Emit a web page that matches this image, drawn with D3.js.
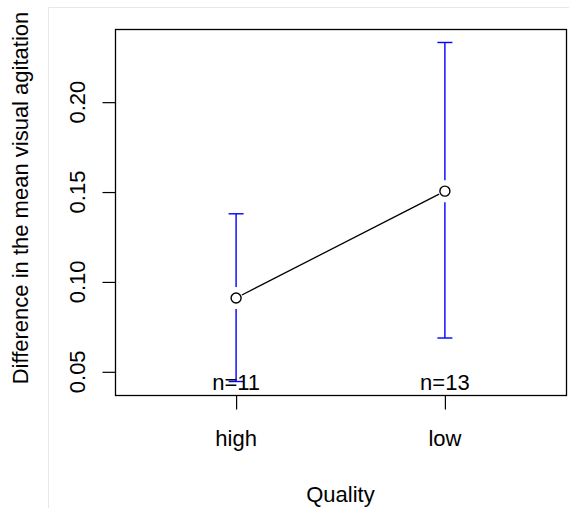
<!DOCTYPE html>
<html>
<head>
<meta charset="utf-8">
<script src="https://cdn.jsdelivr.net/npm/d3@7"></script>
<style>
  html, body { margin: 0; padding: 0; background: #fff; }
  svg { display: block; }
  text { font-family: "Liberation Sans", Arial, Helvetica, sans-serif; fill: #000; }
</style>
</head>
<body>
<svg id="chart" width="569" height="508"></svg>
<script>
// ---- data ----
const categories = ["high", "low"];
const means = [0.0911, 0.1505];
const upper = [0.1379, 0.2332];
const lower = [0.0446, 0.0688];
const nLabels = ["n=11", "n=13"];
const yTicks = [0.05, 0.10, 0.15, 0.20];
const yTickLabels = ["0.05", "0.10", "0.15", "0.20"];
const xTitle = "Quality";
const yTitle = "Difference in the mean visual agitation";

// ---- layout ----
const box = { left: 115, right: 566, top: 29, bottom: 395 };
const fontSize = 22;

const svg = d3.select("#chart");

// faint outer frame
svg.append("path")
  .attr("d", "M48.5,520 L48.5,7.5 L575,7.5")
  .attr("fill", "none")
  .attr("stroke", "#e8e8e8")
  .attr("stroke-width", 1);

const x = d3.scaleLinear().domain([0.42, 2.58]).range([box.left, box.right]);
const y = d3.scaleLinear().domain([0.0371, 0.2407]).range([box.bottom, box.top]);

const idx = categories.map((c, i) => i + 1);

// box
svg.append("rect")
  .attr("x", box.left + 0.5).attr("y", box.top + 0.5)
  .attr("width", box.right - box.left).attr("height", box.bottom - box.top)
  .attr("fill", "none").attr("stroke", "#000").attr("stroke-width", 1.3);

// y axis
const yAxis = d3.axisLeft(y).tickValues(yTicks).tickSize(13).tickFormat("");
const gy = svg.append("g").attr("transform", `translate(${box.left + 0.5},0)`).call(yAxis);
gy.select(".domain").remove();
gy.selectAll(".tick line").attr("stroke", "#000").attr("stroke-width", 1.2);
yTicks.forEach((t, i) => {
  svg.append("text")
    .attr("transform", `translate(85,${y(t)}) rotate(-90)`)
    .attr("text-anchor", "middle")
    .attr("font-size", fontSize)
    .text(yTickLabels[i]);
});

// x axis
const xAxis = d3.axisBottom(x).tickValues(idx).tickSize(14).tickFormat("");
const gx = svg.append("g").attr("transform", `translate(0,${box.bottom + 0.5})`).call(xAxis);
gx.select(".domain").remove();
gx.selectAll(".tick line").attr("stroke", "#000").attr("stroke-width", 1.2);
categories.forEach((c, i) => {
  svg.append("text")
    .attr("x", x(idx[i])).attr("y", 446)
    .attr("text-anchor", "middle")
    .attr("font-size", fontSize)
    .text(c);
});

// axis titles
svg.append("text")
  .attr("x", (box.left + box.right) / 2).attr("y", 502)
  .attr("text-anchor", "middle").attr("font-size", fontSize)
  .text(xTitle);
svg.append("text")
  .attr("transform", `translate(28,198) rotate(-90)`)
  .attr("text-anchor", "middle").attr("font-size", fontSize)
  .text(yTitle);

// error bars (with gap around point)
const gap = 11, capHalf = 7.5, r = 5;
idx.forEach((v, i) => {
  const cx = x(v), cy = y(means[i]);
  const g = svg.append("g").attr("stroke", "blue").attr("stroke-width", 1.4);
  g.append("line").attr("x1", cx).attr("x2", cx).attr("y1", y(upper[i])).attr("y2", cy - gap);
  g.append("line").attr("x1", cx).attr("x2", cx).attr("y1", cy + gap).attr("y2", y(lower[i]));
  g.append("line").attr("x1", cx - capHalf).attr("x2", cx + capHalf).attr("y1", y(upper[i])).attr("y2", y(upper[i]));
  g.append("line").attr("x1", cx - capHalf).attr("x2", cx + capHalf).attr("y1", y(lower[i])).attr("y2", y(lower[i]));
});

// connecting line (type "b": gap around points)
for (let i = 0; i < idx.length - 1; i++) {
  const x1 = x(idx[i]), y1 = y(means[i]), x2 = x(idx[i + 1]), y2 = y(means[i + 1]);
  const dx = x2 - x1, dy = y2 - y1, L = Math.hypot(dx, dy);
  const t = (r + 1.5) / L;
  svg.append("line")
    .attr("x1", x1 + dx * t).attr("y1", y1 + dy * t)
    .attr("x2", x2 - dx * t).attr("y2", y2 - dy * t)
    .attr("stroke", "#000").attr("stroke-width", 1.3);
}

// points
svg.selectAll("circle.pt").data(idx).enter().append("circle")
  .attr("class", "pt")
  .attr("cx", d => x(d)).attr("cy", (d, i) => y(means[i]))
  .attr("r", r).attr("fill", "none").attr("stroke", "#000").attr("stroke-width", 1.4);

// n labels
idx.forEach((v, i) => {
  svg.append("text")
    .attr("x", x(v)).attr("y", 390)
    .attr("text-anchor", "middle").attr("font-size", fontSize)
    .text(nLabels[i]);
});
</script>
</body>
</html>
